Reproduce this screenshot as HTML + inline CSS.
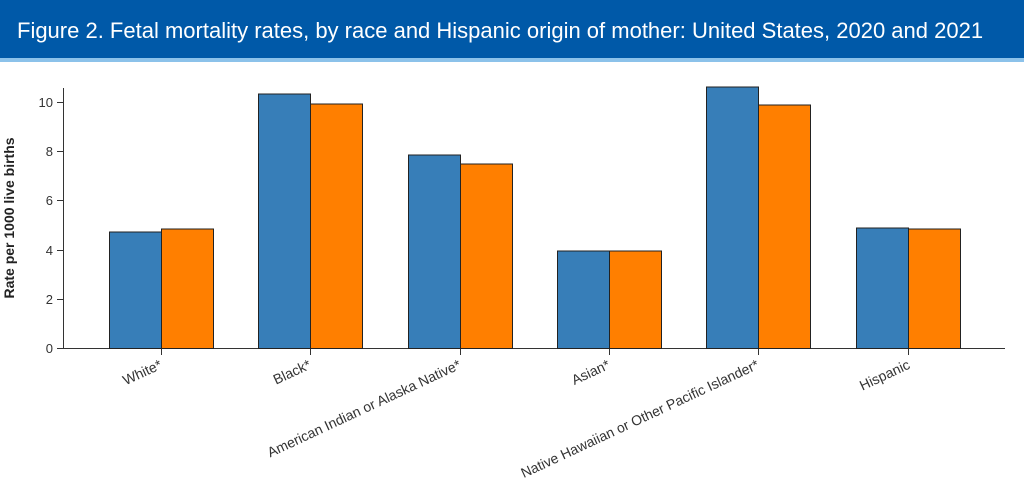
<!DOCTYPE html>
<html><head><meta charset="utf-8"><style>
body{margin:0;width:1024px;height:484px;background:#fff;overflow:hidden;font-family:"Liberation Sans",sans-serif}
</style></head><body>
<svg width="1024" height="484" xmlns="http://www.w3.org/2000/svg" font-family="Liberation Sans, sans-serif">
<rect x="0" y="0" width="1024" height="58" fill="#0059a8"/>
<rect x="0" y="58" width="1024" height="4" fill="#8cc2ea"/>
<text x="17" y="38" fill="#fff" font-size="22">Figure 2. Fetal mortality rates, by race and Hispanic origin of mother: United States, 2020 and 2021</text>
<g stroke="#333" stroke-width="1">
<line x1="63.5" y1="88" x2="63.5" y2="348.5"/>
<line x1="63" y1="348.5" x2="1005" y2="348.5"/>
<line x1="57" y1="348.5" x2="63" y2="348.5"/>
<line x1="57" y1="299.5" x2="63" y2="299.5"/>
<line x1="57" y1="250.5" x2="63" y2="250.5"/>
<line x1="57" y1="200.5" x2="63" y2="200.5"/>
<line x1="57" y1="151.5" x2="63" y2="151.5"/>
<line x1="57" y1="102.5" x2="63" y2="102.5"/>
</g>
<g font-size="13" fill="#333" text-anchor="end">
<text x="53" y="353">0</text><text x="53" y="304">2</text><text x="53" y="255">4</text>
<text x="53" y="205">6</text><text x="53" y="156">8</text><text x="53" y="107">10</text>
</g>
<text transform="translate(14,218) rotate(-90)" text-anchor="middle" font-size="14" font-weight="bold" fill="#222">Rate per 1000 live births</text>
<g stroke="#222" stroke-width="1">
<rect x="109.5" y="232" width="52" height="116.5" fill="#377eb8"/>
<rect x="161.5" y="229" width="52" height="119.5" fill="#ff7f00"/>
<rect x="258.5" y="94" width="52" height="254.5" fill="#377eb8"/>
<rect x="310.5" y="104" width="52" height="244.5" fill="#ff7f00"/>
<rect x="408.5" y="155" width="52" height="193.5" fill="#377eb8"/>
<rect x="460.5" y="164" width="52" height="184.5" fill="#ff7f00"/>
<rect x="557.5" y="251" width="52" height="97.5" fill="#377eb8"/>
<rect x="609.5" y="251" width="52" height="97.5" fill="#ff7f00"/>
<rect x="706.5" y="87" width="52" height="261.5" fill="#377eb8"/>
<rect x="758.5" y="105" width="52" height="243.5" fill="#ff7f00"/>
<rect x="856.5" y="228" width="52" height="120.5" fill="#377eb8"/>
<rect x="908.5" y="229" width="52" height="119.5" fill="#ff7f00"/>
</g>
<g stroke="#333"><line x1="161.5" y1="349" x2="161.5" y2="355"/><line x1="310.5" y1="349" x2="310.5" y2="355"/><line x1="460.5" y1="349" x2="460.5" y2="355"/><line x1="609.5" y1="349" x2="609.5" y2="355"/><line x1="758.5" y1="349" x2="758.5" y2="355"/><line x1="908.5" y1="349" x2="908.5" y2="355"/></g>
<g font-size="14" fill="#333" text-anchor="end">
<text transform="translate(163,368) rotate(-25)">White*</text>
<text transform="translate(312,368) rotate(-25)">Black*</text>
<text transform="translate(462,368) rotate(-25)">American Indian or Alaska Native*</text>
<text transform="translate(611,368) rotate(-25)">Asian*</text>
<text transform="translate(760,368) rotate(-25)">Native Hawaiian or Other Pacific Islander*</text>
<text transform="translate(911,368) rotate(-25)">Hispanic</text>
</g>
</svg>
</body></html>
